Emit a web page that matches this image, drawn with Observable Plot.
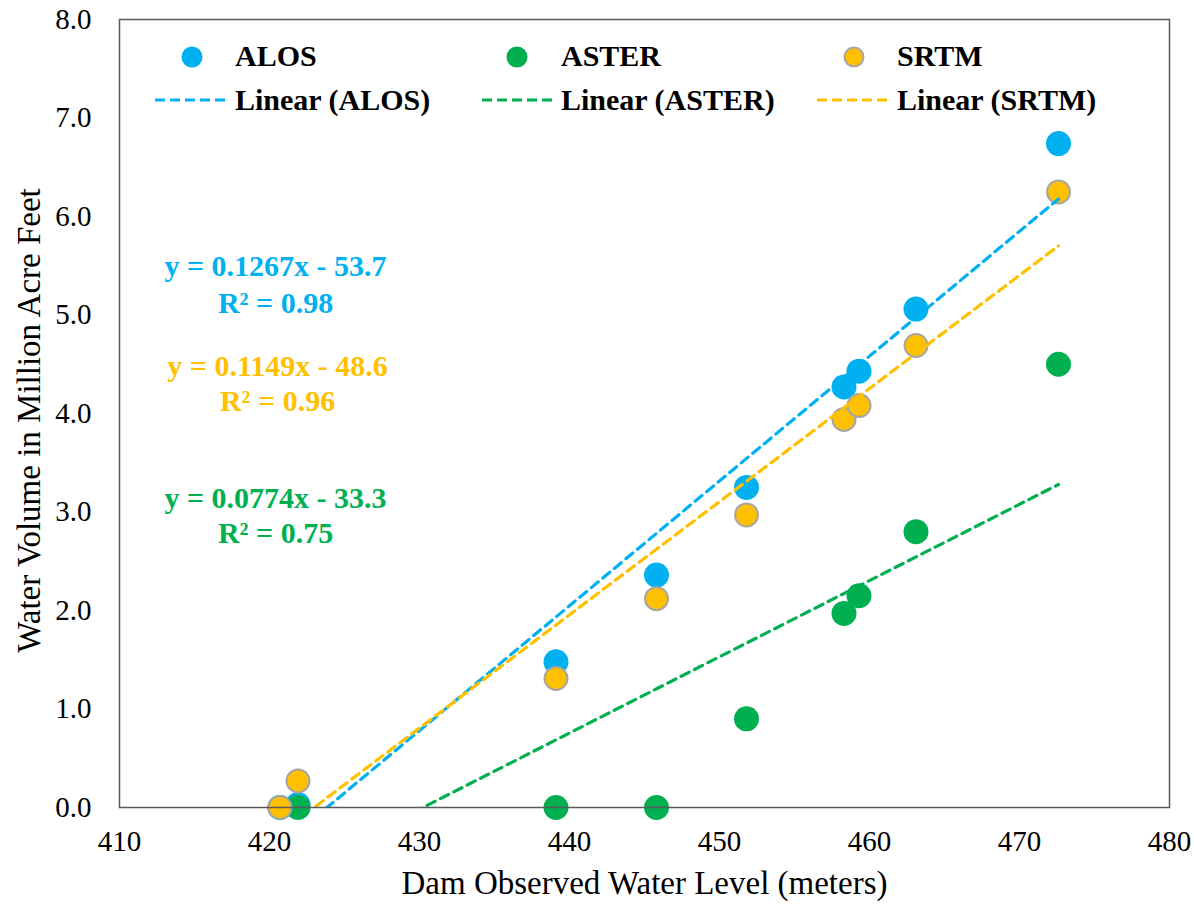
<!DOCTYPE html>
<html>
<head>
<meta charset="utf-8">
<script src="https://cdn.jsdelivr.net/npm/d3@7"></script>
<script src="https://cdn.jsdelivr.net/npm/@observablehq/plot@0.6"></script>
<style>
  body { margin: 0; background: #ffffff; }
  #chart { width: 1194px; height: 904px; }
</style>
</head>
<body>
<div id="chart"></div>
<script>
// ---- Data ----
const levels = [420.7, 421.9, 439.1, 445.8, 451.8, 458.3, 459.3, 463.1, 472.6];
const alos   = [0.00, 0.03, 1.48, 2.36, 3.25, 4.27, 4.43, 5.06, 6.74];
const aster  = [0.00, 0.00, 0.00, 0.00, 0.90, 1.97, 2.15, 2.80, 4.50];
const srtm   = [0.00, 0.27, 1.31, 2.12, 2.97, 3.94, 4.08, 4.69, 6.25];
const seriesNames  = ["ALOS", "ASTER", "SRTM"];
const seriesColors = ["#00B0F0", "#00B050", "#FFC000"];
const slopes     = [0.1267, 0.0774, 0.1149];
const intercepts = [-53.7, -33.3, -48.6];
const rSquared   = [0.98, 0.75, 0.96];
const xTicks = [410, 420, 430, 440, 450, 460, 470, 480];
const yTicks = [0, 1, 2, 3, 4, 5, 6, 7, 8];
const xTitle = "Dam Observed Water Level (meters)";
const yTitle = "Water Volume in Million Acre Feet";

// ---- Build tables ----
const seriesValues = [alos, aster, srtm];
const points = seriesNames.map((name, s) =>
  levels.map((x, i) => ({series: name, x, y: seriesValues[s][i]})));
const [xmin, xmax] = d3.extent(levels);
const trends = seriesNames.map((name, s) =>
  [xmin, xmax].map(x => ({series: name, x, y: slopes[s] * x + intercepts[s]})));
const fmtEq = s => `y = ${slopes[s]}x - ${Math.abs(intercepts[s]).toFixed(1)}`;
const fmtR2 = s => `R² = ${rSquared[s].toFixed(2)}`;

const FONT = "'Liberation Serif', 'Times New Roman', serif";
const gray = "#A6A6A6";

// equation placement (layout only): order ALOS, SRTM, ASTER from top
const eqLayout = [
  {s: 0, dx: 156, dy1: 256, dy2: 293},
  {s: 2, dx: 158, dy1: 356, dy2: 391},
  {s: 1, dx: 156, dy1: 488, dy2: 523}
];

const marks = [];
// dots
[0, 1, 2].forEach(s => {
  marks.push(Plot.dot(points[s], {
    x: "x", y: "y",
    r: s === 2 ? 11.5 : 12.5,
    fill: seriesColors[s],
    stroke: s === 2 ? gray : "none",
    strokeWidth: 2
  }));
});
// trend lines
[0, 1, 2].forEach(s => {
  marks.push(Plot.line(trends[s], {
    x: "x", y: "y", stroke: seriesColors[s], strokeWidth: 3.2,
    strokeDasharray: "9,6", clip: true
  }));
});
// equations
eqLayout.forEach(({s, dx, dy1, dy2}) => {
  marks.push(Plot.text([fmtEq(s)], {
    text: d => d, frameAnchor: "top-left", dx, dy: dy1,
    textAnchor: "middle", lineAnchor: "bottom",
    fill: seriesColors[s], fontWeight: "bold", fontSize: 30
  }));
  marks.push(Plot.text([fmtR2(s)], {
    text: d => d, frameAnchor: "top-left", dx, dy: dy2,
    textAnchor: "middle", lineAnchor: "bottom",
    fill: seriesColors[s], fontWeight: "bold", fontSize: 30
  }));
});
// axes
marks.push(Plot.axisX({ticks: xTicks, tickSize: 0, tickPadding: 23, fontSize: 29, label: null, tickFormat: d3.format("d")}));
marks.push(Plot.axisY({ticks: yTicks, tickSize: 0, tickPadding: 28, fontSize: 29, label: null, tickFormat: d3.format(".1f")}));
// axis titles
marks.push(Plot.text([xTitle], {text: d => d, frameAnchor: "bottom", dy: 86, lineAnchor: "bottom", fontSize: 33}));
marks.push(Plot.text([yTitle], {text: d => d, frameAnchor: "left", dx: -90, dy: 7, rotate: -90, textAnchor: "middle", lineAnchor: "middle", fontSize: 33}));
// frame
marks.push(Plot.frame({stroke: "#595959", strokeWidth: 1.5}));

const chart = Plot.plot({
  width: 1194,
  height: 904,
  marginLeft: 119,
  marginRight: 25,
  marginTop: 19,
  marginBottom: 97,
  x: {domain: [410, 480]},
  y: {domain: [0, 8]},
  style: {fontFamily: FONT, fontSize: "29px", color: "#000", background: "#fff", overflow: "visible"},
  marks
});

// ---- Legend inside the plot area ----
const legendLayout = [
  {dotX: 192, textX: 235, lineX1: 155, lineX2: 228},
  {dotX: 517, textX: 561, lineX1: 482, lineX2: 553},
  {dotX: 854, textX: 897, lineX1: 817, lineX2: 888}
];
const svg = d3.select(chart);
const lg = svg.append("g")
  .attr("font-family", FONT).attr("font-weight", "bold").attr("font-size", 30)
  .attr("fill", "#000").attr("text-anchor", "start");
seriesNames.forEach((name, s) => {
  const L = legendLayout[s];
  lg.append("circle").attr("cx", L.dotX).attr("cy", 57)
    .attr("r", s === 2 ? 9.5 : 10.5)
    .attr("fill", seriesColors[s])
    .attr("stroke", s === 2 ? gray : "none").attr("stroke-width", 2);
  lg.append("text").attr("x", L.textX).attr("y", 66).attr("text-anchor", "start").text(name);
  lg.append("line").attr("x1", L.lineX1).attr("x2", L.lineX2).attr("y1", 100).attr("y2", 100)
    .attr("stroke", seriesColors[s]).attr("stroke-width", 3.2).attr("stroke-dasharray", "10,5");
  lg.append("text").attr("x", L.textX).attr("y", 110).attr("text-anchor", "start").text(`Linear (${name})`);
});

document.getElementById("chart").appendChild(chart);
</script>
</body>
</html>
